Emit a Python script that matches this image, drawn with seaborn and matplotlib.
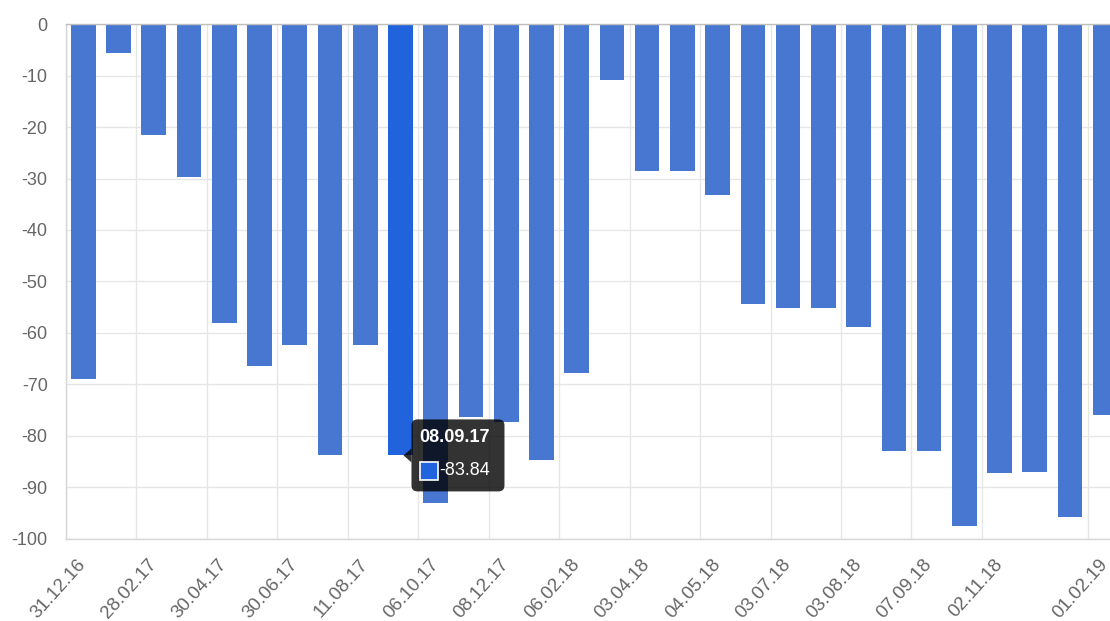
import matplotlib
matplotlib.use("Agg")
import matplotlib.pyplot as plt
import matplotlib.transforms as mtransforms
from matplotlib.patches import FancyBboxPatch, Polygon, Rectangle
import seaborn as sns
import pandas as pd

# ---------------- data ----------------
dates = ["31.12.16", "31.01.17", "28.02.17", "31.03.17", "30.04.17", "31.05.17",
         "30.06.17", "31.07.17", "11.08.17", "08.09.17", "06.10.17", "10.11.17",
         "08.12.17", "08.01.18", "06.02.18", "06.03.18", "03.04.18", "18.04.18",
         "04.05.18", "04.06.18", "03.07.18", "18.07.18", "03.08.18", "21.08.18",
         "07.09.18", "05.10.18", "02.11.18", "03.12.18", "03.01.19", "01.02.19"]
values = [-69.0, -5.5, -21.6, -29.7, -58.0, -66.5, -62.3, -83.8, -62.3, -83.84,
          -93.1, -76.3, -77.3, -84.8, -67.8, -10.8, -28.6, -28.6, -33.1, -54.4,
          -55.2, -55.2, -58.9, -82.9, -82.9, -97.5, -87.2, -87.0, -95.8, -76.0]
shown_label_idx = [0, 2, 4, 6, 8, 10, 12, 14, 16, 18, 20, 22, 24, 26, 29]
hover_idx = 9
y_ticks = [0, -10, -20, -30, -40, -50, -60, -70, -80, -90, -100]

BAR = "#4877d2"
BAR_HOVER = "#2063dc"
GRID = "#e6e6e6"
TXT = "#666666"

df = pd.DataFrame({
    "date": dates,
    "value": values,
    "state": ["hover" if i == hover_idx else "normal" for i in range(len(dates))],
})

# ---------------- figure ----------------
sns.set_style("white")
plt.rcParams["font.family"] = ["Liberation Sans", "DejaVu Sans"]
plt.rcParams["axes.unicode_minus"] = False

W, H = 1110, 621
fig = plt.figure(figsize=(W / 100, H / 100), dpi=100)
left_px, right_px, top_px, bottom_px = 65.7, 1110, 24.3, 538.5
ax = fig.add_axes([left_px / W, 1 - bottom_px / H,
                   (right_px - left_px) / W, (bottom_px - top_px) / H])

sns.barplot(data=df, x="date", y="value", hue="state",
            palette={"normal": BAR, "hover": BAR_HOVER},
            order=dates, dodge=False, width=0.7, legend=False,
            edgecolor="none", saturation=1, ax=ax)

band_px = 35.24
ax.set_xlim(-0.5, -0.5 + (right_px - left_px) / band_px)
ax.set_ylim(-100, 0)
ax.set_xlabel("")
ax.set_ylabel("")

# y axis
ax.set_yticks(y_ticks)
ax.set_yticklabels([str(v) for v in y_ticks])
ax.tick_params(axis="y", length=11, width=1, color=GRID, labelcolor=TXT,
               labelsize=13, pad=2)
ax.grid(axis="y", color=GRID, linewidth=1)

# x axis: labels at category centres, gridlines at band edges
ax.set_xticks(shown_label_idx)
ax.set_xticklabels([dates[i] for i in shown_label_idx], rotation=48,
                   ha="right", va="center", rotation_mode="anchor")
ax.set_xticks([i - 0.5 for i in shown_label_idx], minor=True)
ax.tick_params(axis="x", which="major", length=0, labelcolor=TXT,
               labelsize=13.5, pad=16.5)
ax.tick_params(axis="x", which="minor", length=11.5, width=1, color=GRID)
ax.grid(axis="x", which="minor", color=GRID, linewidth=1)
ax.grid(axis="x", which="major", visible=False)
ax.set_axisbelow(True)

for s in ["left", "bottom"]:
    ax.spines[s].set_color("#d6d6d6")
    ax.spines[s].set_linewidth(1)
ax.spines["top"].set_color("#bfbfbf")
ax.spines["top"].set_linewidth(1)
ax.spines["right"].set_visible(False)

# ---------------- tooltip ----------------
fig.canvas.draw()
ax_x, ax_y = ax.transData.transform((hover_idx, values[hover_idx]))
T = mtransforms.Affine2D().translate(ax_x + 3, ax_y)

box = FancyBboxPatch((8, -36), 93, 72, boxstyle="round,pad=0,rounding_size=6",
                     fc=(0, 0, 0, 0.8), ec="none", transform=T, zorder=10)
caret = Polygon([(0, 0), (8, 7), (8, -7)], closed=True, fc=(0, 0, 0, 0.8),
                ec="none", transform=T, zorder=10)
sq = Rectangle((17, -25), 18, 18, fc=BAR_HOVER, ec="white", lw=1.2,
               transform=T, zorder=11)
for art in (box, caret, sq):
    fig.add_artist(art)
fig.text(16, 18, dates[hover_idx], transform=T, color="white",
         fontsize=13, fontweight="bold", ha="left", va="center", zorder=12)
fig.text(36, -15, f"{values[hover_idx]:.2f}", transform=T, color="white",
         fontsize=13, ha="left", va="center", zorder=12)

fig.savefig("out.png", dpi=100)
